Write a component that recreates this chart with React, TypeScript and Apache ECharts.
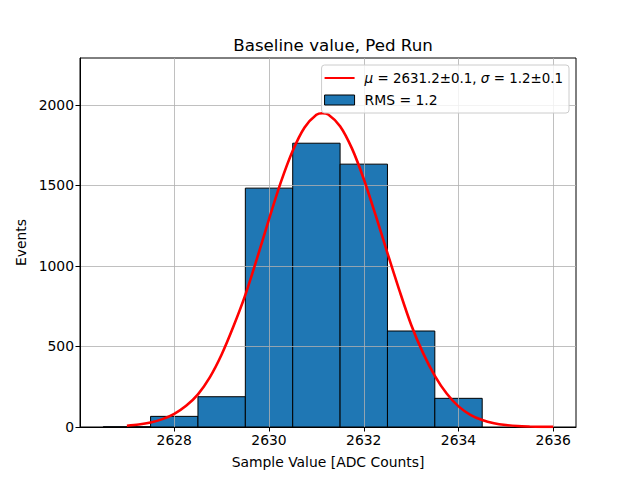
import React, { useEffect, useRef } from "react";
import * as echarts from "echarts";

const binStarts = [2626.5, 2627.5, 2628.5, 2629.5, 2630.5, 2631.5, 2632.5, 2633.5];
const binWidth = 1;
const binCounts = [1, 66, 188, 1483, 1762, 1632, 596, 178];

const fitX = [
  2627, 2627.25, 2627.5, 2627.75, 2628, 2628.25, 2628.5, 2628.75, 2629, 2629.25,
  2629.5, 2629.75, 2630, 2630.25, 2630.5, 2630.75, 2631, 2631.125, 2631.25, 2631.5, 2631.75,
  2632, 2632.25, 2632.5, 2632.75, 2633, 2633.25, 2633.5, 2633.75, 2634, 2634.25,
  2634.5, 2634.75, 2635, 2635.25, 2635.5, 2635.75, 2636,
];
const fitY = [
  8, 15, 28, 49, 82, 132, 203, 308, 450, 625,
  820, 1050, 1290, 1520, 1715, 1860, 1938, 1948, 1940, 1868, 1730,
  1540, 1315, 1080, 850, 635, 460, 318, 208, 128, 76,
  43, 23, 12, 6, 3, 1, 0.5,
];

const xTicks = [2628, 2630, 2632, 2634, 2636];
const yTicks = [0, 500, 1000, 1500, 2000];

const titleText = "Baseline value, Ped Run";
const xName = "Sample Value [ADC Counts]";
const yName = "Events";
const fitName = "μ = 2631.2±0.1, σ = 1.2±0.1";
const histName = "RMS = 1.2";

const FONT = "DejaVu Sans";

export default function App() {
  const ref = useRef<HTMLDivElement>(null);
  useEffect(() => {
    if (!ref.current) return;
    const chart = echarts.init(ref.current, null, { renderer: "svg" });
    const histData = binStarts.map((s, i) => [s, s + binWidth, binCounts[i]]);
    const lineData = fitX.map((x, i) => [x, fitY[i]]);
    chart.setOption({
      animation: false,
      backgroundColor: "#fff",
      title: {
        text: titleText,
        left: 328,
        top: 32,
        textAlign: "center",
        textStyle: { fontFamily: FONT, fontSize: 16.67, fontWeight: "normal", color: "#000" },
      },
      grid: {
        left: 80,
        right: 64,
        top: 58,
        bottom: 53,
        show: true,
        borderColor: "#000",
        borderWidth: 1,
        backgroundColor: "transparent",
      },
      legend: {
        orient: "vertical",
        right: 71,
        top: 65,
        z: 10,
        padding: [6, 6, 6, 2],
        itemWidth: 30,
        itemHeight: 10,
        itemGap: 8,
        backgroundColor: "rgba(255,255,255,0.8)",
        borderColor: "#ccc",
        borderWidth: 1,
        borderRadius: 3,
        formatter: (name: string) =>
          name === fitName
            ? "{i|μ}{m| = 2631.2±0.1, }{i|σ}{m| = 1.2±0.1}"
            : name,
        textStyle: {
          fontFamily: FONT,
          fontSize: 13.9,
          color: "#000",
          padding: [0, 0, 0, 5],
          rich: {
            i: { fontFamily: FONT, fontSize: 13.6, fontStyle: "italic", color: "#000" },
            m: { fontFamily: FONT, fontSize: 13.4, color: "#000" },
          },
        },
        data: [
          { name: fitName, itemStyle: { opacity: 0 } },
          {
            name: histName,
            icon: "rect",
            itemStyle: { color: "#1f77b4", borderColor: "#000", borderWidth: 1 },
          },
        ],
      },
      xAxis: {
        type: "value",
        min: 2626.01,
        max: 2636.48,
        z: 3,
        name: xName,
        nameLocation: "middle",
        nameGap: 28,
        nameTextStyle: { fontFamily: FONT, fontSize: 13.9, color: "#000" },
        axisLine: { show: true, onZero: false, lineStyle: { color: "#000", width: 1 } },
        axisTick: { show: true, length: 4.5, customValues: xTicks, lineStyle: { color: "#000" } },
        axisLabel: {
          customValues: xTicks,
          margin: 6,
          fontFamily: FONT,
          fontSize: 13.9,
          color: "#000",
          formatter: (v: number) => String(v),
        },
        splitLine: { show: true, lineStyle: { color: "#b0b0b0", width: 0.8 } },
      },
      yAxis: {
        type: "value",
        min: 0,
        max: 2291,
        z: 3,
        name: yName,
        nameLocation: "middle",
        nameGap: 45,
        nameTextStyle: { fontFamily: FONT, fontSize: 13.9, color: "#000" },
        axisLine: { show: true, onZero: false, lineStyle: { color: "#000", width: 1 } },
        axisTick: { show: true, length: 4.5, customValues: yTicks, lineStyle: { color: "#000" } },
        axisLabel: {
          customValues: yTicks,
          margin: 6,
          fontFamily: FONT,
          fontSize: 13.9,
          color: "#000",
          formatter: (v: number) => String(v),
        },
        splitLine: { show: true, lineStyle: { color: "#b0b0b0", width: 0.8 } },
      },
      series: [
        {
          type: "custom",
          name: histName,
          z: 2,
          itemStyle: { color: "#1f77b4", borderColor: "#000", borderWidth: 1 },
          encode: { x: [0, 1], y: 2 },
          data: histData,
          renderItem: (params: any, api: any) => {
            const x0 = api.value(0);
            const x1 = api.value(1);
            const v = api.value(2);
            const p0 = api.coord([x0, v]);
            const p1 = api.coord([x1, 0]);
            return {
              type: "rect",
              shape: { x: p0[0], y: p0[1], width: p1[0] - p0[0], height: p1[1] - p0[1] },
              style: { fill: "#1f77b4", stroke: "#000", lineWidth: 1 },
            };
          },
        },
        {
          type: "line",
          name: fitName,
          z: 5,
          data: lineData,
          symbol: "none",
          smooth: 0.3,
          color: "#ff0000",
          lineStyle: { color: "#ff0000", width: 2.6 },
        },
      ],
    });
    return () => chart.dispose();
  }, []);
  return (
    <div
      ref={ref}
      style={{ position: "fixed", left: 0, top: 0, width: 640, height: 480 }}
    />
  );
}
